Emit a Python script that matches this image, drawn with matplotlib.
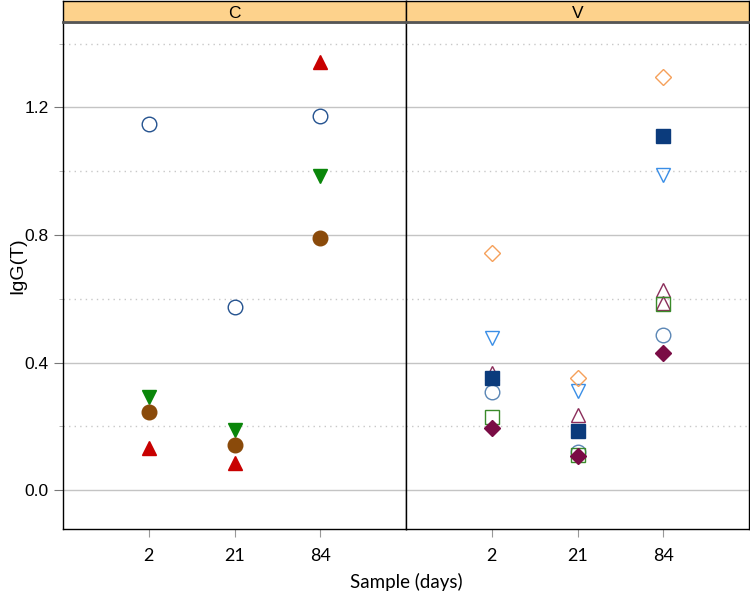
import numpy as np
import matplotlib
matplotlib.use("Agg")
import matplotlib.pyplot as plt

# sample days (x categories)
days = ["2", "21", "84"]
panels = ["C", "V"]

# panel C
c_circle = [1.148, 0.573, 1.174]
c_down = [0.293, 0.188, 0.986]
c_dot = [0.246, 0.141, 0.792]
c_up = [0.131, 0.084, 1.343]

# panel V
v_circle = [0.308, 0.120, 0.486]
v_up = [0.367, 0.235, 0.627]
v_up2 = [np.nan, np.nan, 0.587]
v_square = [0.350, 0.186, 1.112]
v_down = [0.476, 0.311, 0.988]
v_diamond = [0.745, 0.352, 1.297]
v_square_open = [0.228, 0.110, 0.584]
v_diamond_fill = [0.194, 0.107, 0.429]

fig = plt.figure(figsize=(7.5, 5.94), dpi=100)
W, H = 750.0, 594.0
x0, xm, x1 = 63, 406, 749
ytop, ybot = 22, 529

axC = fig.add_axes([x0 / W, 1 - ybot / H, (xm - x0) / W, (ybot - ytop) / H])
axV = fig.add_axes([xm / W, 1 - ybot / H, (x1 - xm) / W, (ybot - ytop) / H])

pos = np.arange(1, len(days) + 1)

for ax in (axC, axV):
    ax.set_xlim(0, 4)
    ax.set_ylim(-0.122, 1.468)
    for v in [0.0, 0.4, 0.8, 1.2]:
        ax.axhline(v, color="#c4c4c4", lw=1.0, zorder=0)
    for v in [0.2, 0.6, 1.0, 1.4]:
        ax.axhline(v, color="#c8c8c8", lw=1.0, ls=(0, (1, 3)), zorder=0)
    for s in ax.spines.values():
        s.set_color("black")
        s.set_linewidth(1.0)
    ax.set_xticks(pos)
    ax.set_xticklabels(days, fontfamily="Lato", fontsize=13)
    ax.tick_params(axis="x", length=6, color="#999999", pad=8)

axC.set_yticks([0.0, 0.4, 0.8, 1.2])
axC.set_yticklabels(["0.0", "0.4", "0.8", "1.2"], fontfamily="Liberation Sans", fontsize=12.5)
axC.set_yticks([0.2, 0.6, 1.0, 1.4], minor=True)
axC.tick_params(axis="y", which="major", length=6.5, color="#777777", pad=4)
axC.tick_params(axis="y", which="minor", length=3, color="#aaaaaa")
axV.set_yticks([])

ms = 10.5

def pt(ax, y, marker, color, filled, size=ms):
    ax.plot(pos, y, ls="none", marker=marker, markersize=size,
            markerfacecolor=color if filled else "none",
            markeredgecolor=color, markeredgewidth=1.0, zorder=3)

pt(axC, c_circle, "o", "#24528f", False)
pt(axC, c_down, "v", "#0a860a", True)
pt(axC, c_dot, "o", "#8a4a0a", True)
pt(axC, c_up, "^", "#c80000", True)

pt(axV, v_circle, "o", "#5a86b5", False)
pt(axV, v_up, "^", "#8b2d5a", False)
pt(axV, v_up2, "^", "#8b2d5a", False)
pt(axV, v_square, "s", "#0b3b7c", True, 10.0)
pt(axV, v_down, "v", "#3a8ee6", False)
pt(axV, v_diamond, "D", "#f5a05a", False, 7.8)
pt(axV, v_square_open, "s", "#3a8a2a", False, 10.0)
pt(axV, v_diamond_fill, "D", "#7a0c45", True, 7.8)

# strips
for name, xa, xb in [("C", x0, xm), ("V", xm, x1)]:
    sax = fig.add_axes([xa / W, 1 - ytop / H, (xb - xa) / W, (ytop - 1) / H])
    sax.set_facecolor("#fdd28c")
    sax.set_xticks([])
    sax.set_yticks([])
    for s in sax.spines.values():
        s.set_color("black")
        s.set_linewidth(1.0)
    sax.spines["bottom"].set_color("#555555")
    sax.spines["bottom"].set_linewidth(2.0)
    sax.text(0.5, 0.42, name, ha="center", va="center", fontsize=12.5,
             fontfamily="Liberation Sans", transform=sax.transAxes)

fig.text((x0 + x1) / 2 / W, 1 - 582 / H, "Sample (days)", ha="center", va="center",
         fontfamily="Lato", fontsize=13.5)
fig.text(18 / W, 1 - 266 / H, "IgG(T)", ha="center", va="center", rotation=90,
         fontfamily="Liberation Sans", fontsize=14)

fig.savefig("out.png", dpi=100)
